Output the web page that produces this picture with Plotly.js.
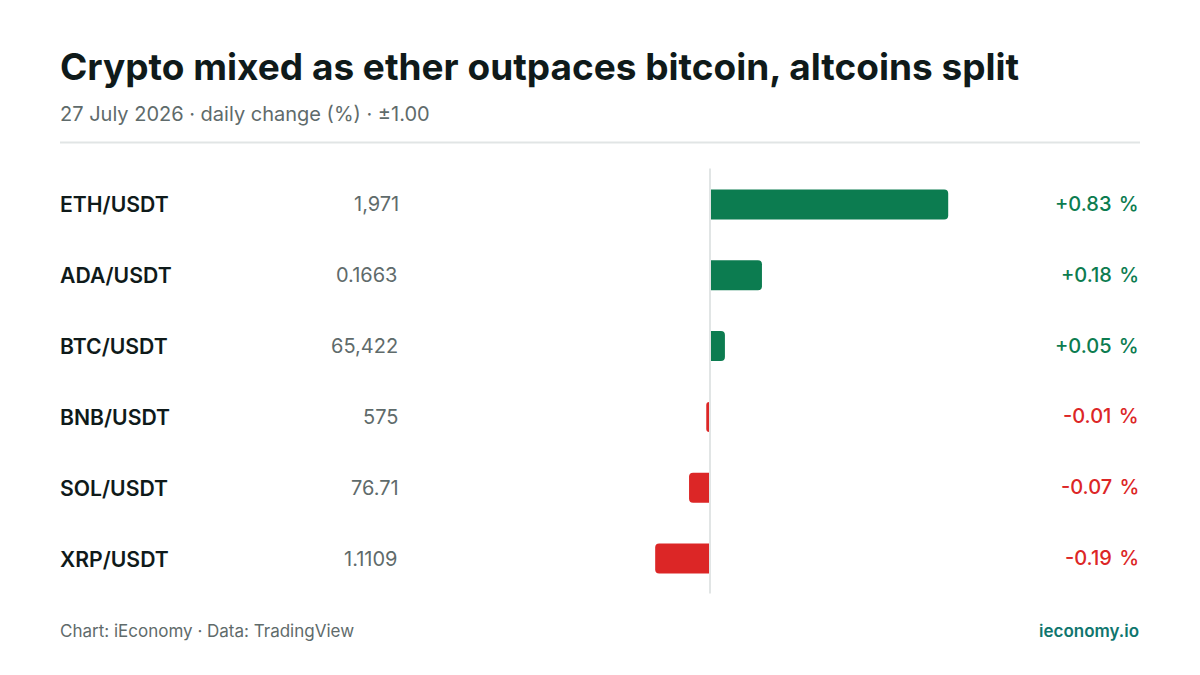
<!DOCTYPE html>
<html><head><meta charset="utf-8">
<script src="https://cdn.plot.ly/plotly-3.0.1.min.js"></script>
<style>html,body{margin:0;padding:0;background:#fff}#c{width:1200px;height:675px}
text[data-unformatted$="%"]{word-spacing:2px}
</style>
</head><body><div id="c"></div>
<script>
const pairs = ["ETH/USDT","ADA/USDT","BTC/USDT","BNB/USDT","SOL/USDT","XRP/USDT"];
const prices = ["1,971","0.1663","65,422","575","76.71","1.1109"];
const changes = [0.83,0.181,0.052,-0.013,-0.073,-0.191];
const changeLabels = ["+0.83 %","+0.18 %","+0.05 %","-0.01 %","-0.07 %","-0.19 %"];
const titleText = "Crypto mixed as ether outpaces bitcoin, altcoins split";
const subtitleText = "27 July 2026 · daily change (%) · ±1.00";
const sourceText = "Chart: iEconomy · Data: TradingView";
const brandText = "ieconomy.io";

const W=1200,H=675,L=423,R=997,T=168.5,B=594.5;
const F="Inter";
const GREEN="#0c7c50",RED="#dc2626",INK="#0f1a1a",GREY="#5f6b6b",RULE="#e1e5e5",TEAL="#0f766e";
const pxX=x=>(x-L)/(R-L), pxY=y=>(B-y)/(B-T);
const colors=changes.map(v=>v>=0?GREEN:RED);
const priceEdge=[399.5,397.5,399,399,399.5,397.5];

const ann=[];
pairs.forEach((p,i)=>{
  ann.push({text:p,x:pxX(59),xref:"paper",y:p,yref:"y",xanchor:"left",yanchor:"middle",showarrow:false,borderpad:0,
    font:{family:F,size:21.2,weight:600,color:INK}});
  ann.push({text:prices[i],x:pxX(priceEdge[i]),xref:"paper",y:p,yref:"y",xanchor:"right",yanchor:"middle",showarrow:false,borderpad:0,
    font:{family:F,size:20,weight:400,color:GREY}});
  ann.push({text:changeLabels[i],x:pxX(1140),xref:"paper",y:p,yref:"y",yshift:0.5,xanchor:"right",yanchor:"middle",showarrow:false,borderpad:0,
    font:{family:F,size:20,weight:500,color:colors[i]}});
});
ann.push({text:titleText,x:pxX(59),xref:"paper",y:pxY(66),yref:"paper",xanchor:"left",yanchor:"middle",showarrow:false,borderpad:0,
  font:{family:F,size:37,weight:700,color:INK}});
ann.push({text:subtitleText,x:pxX(59),xref:"paper",y:pxY(113),yref:"paper",xanchor:"left",yanchor:"middle",showarrow:false,borderpad:0,
  font:{family:F,size:20,weight:400,color:GREY}});
ann.push({text:sourceText,x:pxX(59),xref:"paper",y:pxY(631.5),yref:"paper",xanchor:"left",yanchor:"middle",showarrow:false,borderpad:0,
  font:{family:F,size:17,weight:400,color:GREY}});
ann.push({text:brandText,x:pxX(1140),xref:"paper",y:pxY(631.5),yref:"paper",xanchor:"right",yanchor:"middle",showarrow:false,borderpad:0,
  font:{family:F,size:17,weight:600,color:TEAL}});

Plotly.newPlot("c",[{
  type:"bar",orientation:"h",x:changes,y:pairs,
  marker:{color:colors,cornerradius:4,line:{width:0}},
  hoverinfo:"skip",cliponaxis:false
}],{
  width:W,height:H,margin:{l:L,r:W-R,t:T,b:H-B,pad:0},
  paper_bgcolor:"#fff",plot_bgcolor:"#fff",showlegend:false,bargap:1-30/71,
  xaxis:{range:[-1,1],visible:false,fixedrange:true},
  yaxis:{type:"category",categoryorder:"array",categoryarray:pairs,range:[5.5,-0.5],visible:false,fixedrange:true},
  shapes:[
    {type:"line",xref:"x",yref:"paper",x0:0,x1:0,y0:pxY(594),y1:pxY(168),line:{color:RULE,width:2},layer:"above"},
    {type:"line",xref:"paper",yref:"paper",x0:pxX(60),x1:pxX(1140),y0:pxY(142),y1:pxY(142),line:{color:RULE,width:2},layer:"above"}
  ],
  annotations:ann
},{displayModeBar:false,staticPlot:true});
</script></body></html>
